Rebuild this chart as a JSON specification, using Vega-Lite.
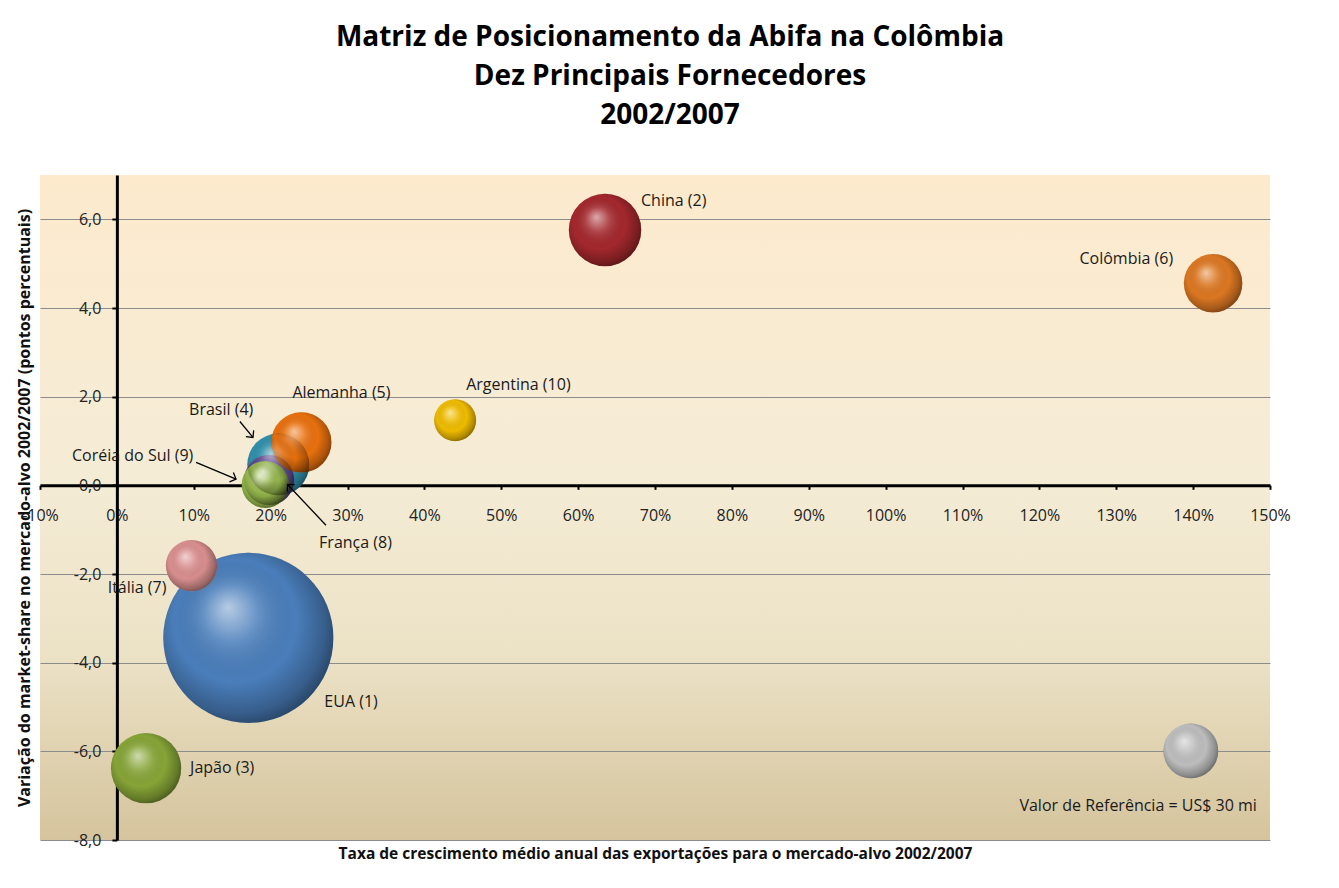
{
  "$schema": "https://vega.github.io/schema/vega-lite/v6.json",
  "autosize": "none",
  "width": 1230,
  "height": 665,
  "padding": {"left": 40, "top": 175, "right": 69, "bottom": 48},
  "background": "#ffffff",
  "view": {
    "stroke": null,
    "fill": {"gradient": "linear", "x1": 0, "y1": 0, "x2": 0, "y2": 1,
      "stops": [
        {"offset": 0, "color": "#FDEACD"},
        {"offset": 0.45, "color": "#F5ECD6"},
        {"offset": 0.72, "color": "#ECE2C6"},
        {"offset": 1, "color": "#D5C49D"}
      ]}
  },
  "title": {
    "text": ["Matriz de Posicionamento da Abifa na Colômbia", "Dez Principais Fornecedores", "2002/2007"],
    "font": "Open Sans", "fontSize": 28, "fontWeight": "bold", "color": "#000000",
    "lineHeight": 39, "anchor": "middle", "offset": 45, "dx": 15
  },
  "datasets": {
    "bolhas": [
      {"pais": "EUA", "rotulo": "EUA (1)", "cresc": 17.1, "var_share": -3.44, "valor": 287},
      {"pais": "China", "rotulo": "China (2)", "cresc": 63.5, "var_share": 5.76, "valor": 52},
      {"pais": "Japão", "rotulo": "Japão (3)", "cresc": 3.8, "var_share": -6.38, "valor": 49},
      {"pais": "Brasil", "rotulo": "Brasil (4)", "cresc": 21.0, "var_share": 0.47, "valor": 38},
      {"pais": "França", "rotulo": "França (8)", "cresc": 19.8, "var_share": 0.12, "valor": 25},
      {"pais": "Alemanha", "rotulo": "Alemanha (5)", "cresc": 24.0, "var_share": 0.97, "valor": 36},
      {"pais": "Coréia do Sul", "rotulo": "Coréia do Sul (9)", "cresc": 19.3, "var_share": 0.02, "valor": 22},
      {"pais": "Colômbia", "rotulo": "Colômbia (6)", "cresc": 142.6, "var_share": 4.56, "valor": 34},
      {"pais": "Itália", "rotulo": "Itália (7)", "cresc": 9.7, "var_share": -1.81, "valor": 26},
      {"pais": "Argentina", "rotulo": "Argentina (10)", "cresc": 44.0, "var_share": 1.47, "valor": 17.5},
      {"pais": "Referência", "rotulo": "Valor de Referência = US$ 30 mi", "cresc": 139.7, "var_share": -5.99, "valor": 30}
    ],
    "setas": [
      {"pais": "Brasil", "x0": 16.0, "y0": 1.44, "x1": 17.7, "y1": 1.08},
      {"pais": "Coréia do Sul", "x0": 10.3, "y0": 0.52, "x1": 15.5, "y1": 0.14},
      {"pais": "França", "x0": 27.2, "y0": -0.9, "x1": 22.2, "y1": 0.02}
    ]
  },
  "layer": [
    {
      "data": {"name": "bolhas"},
      "mark": {"type": "point", "shape": "circle", "filled": true, "opacity": 1, "strokeWidth": 0},
      "encoding": {
        "x": {
          "field": "cresc", "type": "quantitative",
          "scale": {"domain": [-10, 150], "nice": false, "zero": false},
          "axis": {
            "orient": "bottom", "offset": -354.67, "zindex": 0,
            "values": [-10, 0, 10, 20, 30, 40, 50, 60, 70, 80, 90, 100, 110, 120, 130, 140, 150],
            "labelExpr": "datum.value + '%'",
            "grid": false,
            "domainColor": "#000000", "domainWidth": 3,
            "tickColor": "#000000", "tickSize": 4, "tickWidth": 2,
            "labelFont": "Open Sans", "labelFontSize": 16, "labelColor": "#222222",
            "labelPadding": 18, "labelFlush": false, "labelOverlap": false, "labelBound": false,
            "title": "Taxa de crescimento médio anual das exportações para o mercado-alvo 2002/2007",
            "titleFont": "Open Sans", "titleFontSize": 15.5, "titleFontWeight": "bold", "titleColor": "#111111",
            "titleY": 361
          }
        },
        "y": {
          "field": "var_share", "type": "quantitative",
          "scale": {"domain": [-8, 7], "nice": false, "zero": false},
          "axis": {
            "orient": "left", "offset": -76.875, "zindex": 0,
            "values": [-8, -6, -4, -2, 0, 2, 4, 6],
            "labelExpr": "(datum.value < 0 ? '-' : '') + replace(format(abs(datum.value), '.1f'), '.', ',')",
            "grid": true, "gridColor": "#8C8C8C", "gridWidth": 1,
            "domainColor": "#000000", "domainWidth": 3,
            "tickColor": "#000000", "tickSize": 5, "tickWidth": 2,
            "labelFont": "Open Sans", "labelFontSize": 16, "labelColor": "#222222",
            "labelPadding": 11,
            "title": "Variação do market-share no mercado-alvo 2002/2007 (pontos percentuais)",
            "titleFont": "Open Sans", "titleFontSize": 16, "titleFontWeight": "bold", "titleColor": "#111111",
            "titlePadding": 41
          }
        },
        "size": {
          "field": "valor", "type": "quantitative",
          "scale": {"type": "linear", "domain": [0, 300], "range": [0, 30250]},
          "legend": null
        },
        "color": {
          "field": "pais", "type": "nominal",
          "scale": {
            "domain": ["EUA", "China", "Japão", "Brasil", "França", "Alemanha", "Coréia do Sul", "Colômbia", "Itália", "Argentina", "Referência"],
            "range": ["#4A7EBB", "#A3282D", "#86A437", "#2F8FAA", "#60498F", "#E8700E", "#97BA4C", "#DB7722", "#D98E8E", "#EEBB00", "#BDBDBD"]
          },
          "legend": null
        }
      }
    },
    {
      "data": {"name": "bolhas"},
      "mark": {
        "type": "point", "shape": "circle", "filled": true, "opacity": 1, "strokeWidth": 0,
        "fill": {"gradient": "radial", "x1": 0.38, "y1": 0.32, "r1": 0, "x2": 0.45, "y2": 0.45, "r2": 0.6,
          "stops": [
            {"offset": 0, "color": "rgba(255,255,255,0.6)"},
            {"offset": 0.28, "color": "rgba(255,255,255,0.14)"},
            {"offset": 0.6, "color": "rgba(0,0,0,0)"},
            {"offset": 0.85, "color": "rgba(0,0,0,0.25)"},
            {"offset": 1, "color": "rgba(0,0,0,0.5)"}
          ]}
      },
      "encoding": {
        "x": {"field": "cresc", "type": "quantitative"},
        "y": {"field": "var_share", "type": "quantitative"},
        "size": {"field": "valor", "type": "quantitative"}
      }
    },
    {
      "data": {"name": "setas"},
      "mark": {"type": "rule", "color": "#000000", "strokeWidth": 1.3},
      "encoding": {
        "x": {"field": "x0", "type": "quantitative"},
        "y": {"field": "y0", "type": "quantitative"},
        "x2": {"field": "x1"},
        "y2": {"field": "y1"}
      }
    },
    {
      "data": {"name": "setas"},
      "transform": [{"filter": "datum.pais === 'Brasil'"}],
      "mark": {"type": "point", "shape": "M-1,1L0,0L1,1", "filled": false, "stroke": "#000000", "strokeWidth": 1.3, "size": 100, "opacity": 1, "angle": 141},
      "encoding": {"x": {"field": "x1", "type": "quantitative"}, "y": {"field": "y1", "type": "quantitative"}}
    },
    {
      "data": {"name": "setas"},
      "transform": [{"filter": "datum.pais === 'Coréia do Sul'"}],
      "mark": {"type": "point", "shape": "M-1,1L0,0L1,1", "filled": false, "stroke": "#000000", "strokeWidth": 1.3, "size": 100, "opacity": 1, "angle": 113},
      "encoding": {"x": {"field": "x1", "type": "quantitative"}, "y": {"field": "y1", "type": "quantitative"}}
    },
    {
      "data": {"name": "setas"},
      "transform": [{"filter": "datum.pais === 'França'"}],
      "mark": {"type": "point", "shape": "M-1,1L0,0L1,1", "filled": false, "stroke": "#000000", "strokeWidth": 1.3, "size": 100, "opacity": 1, "angle": 317},
      "encoding": {"x": {"field": "x1", "type": "quantitative"}, "y": {"field": "y1", "type": "quantitative"}}
    },
    {
      "data": {"name": "bolhas"},
      "transform": [{"filter": "datum.pais === 'China'"}],
      "mark": {"type": "text", "font": "Open Sans", "fontSize": 16, "color": "#1A1A1A", "align": "left", "baseline": "middle", "dx": 36, "dy": -29},
      "encoding": {"x": {"field": "cresc", "type": "quantitative"}, "y": {"field": "var_share", "type": "quantitative"}, "text": {"field": "rotulo"}}
    },
    {
      "data": {"name": "bolhas"},
      "transform": [{"filter": "datum.pais === 'Colômbia'"}],
      "mark": {"type": "text", "font": "Open Sans", "fontSize": 16, "color": "#1A1A1A", "align": "right", "baseline": "middle", "dx": -40, "dy": -24},
      "encoding": {"x": {"field": "cresc", "type": "quantitative"}, "y": {"field": "var_share", "type": "quantitative"}, "text": {"field": "rotulo"}}
    },
    {
      "data": {"name": "bolhas"},
      "transform": [{"filter": "datum.pais === 'Argentina'"}],
      "mark": {"type": "text", "font": "Open Sans", "fontSize": 16, "color": "#1A1A1A", "align": "left", "baseline": "middle", "dx": 11, "dy": -35},
      "encoding": {"x": {"field": "cresc", "type": "quantitative"}, "y": {"field": "var_share", "type": "quantitative"}, "text": {"field": "rotulo"}}
    },
    {
      "data": {"name": "bolhas"},
      "transform": [{"filter": "datum.pais === 'Alemanha'"}],
      "mark": {"type": "text", "font": "Open Sans", "fontSize": 16, "color": "#1A1A1A", "align": "left", "baseline": "middle", "dx": -9, "dy": -49},
      "encoding": {"x": {"field": "cresc", "type": "quantitative"}, "y": {"field": "var_share", "type": "quantitative"}, "text": {"field": "rotulo"}}
    },
    {
      "data": {"name": "bolhas"},
      "transform": [{"filter": "datum.pais === 'Brasil'"}],
      "mark": {"type": "text", "font": "Open Sans", "fontSize": 16, "color": "#1A1A1A", "align": "right", "baseline": "middle", "dx": -25, "dy": -54},
      "encoding": {"x": {"field": "cresc", "type": "quantitative"}, "y": {"field": "var_share", "type": "quantitative"}, "text": {"field": "rotulo"}}
    },
    {
      "data": {"name": "bolhas"},
      "transform": [{"filter": "datum.pais === 'Coréia do Sul'"}],
      "mark": {"type": "text", "font": "Open Sans", "fontSize": 16, "color": "#1A1A1A", "align": "right", "baseline": "middle", "dx": -72, "dy": -28},
      "encoding": {"x": {"field": "cresc", "type": "quantitative"}, "y": {"field": "var_share", "type": "quantitative"}, "text": {"field": "rotulo"}}
    },
    {
      "data": {"name": "bolhas"},
      "transform": [{"filter": "datum.pais === 'França'"}],
      "mark": {"type": "text", "font": "Open Sans", "fontSize": 16, "color": "#1A1A1A", "align": "left", "baseline": "middle", "dx": 50, "dy": 63},
      "encoding": {"x": {"field": "cresc", "type": "quantitative"}, "y": {"field": "var_share", "type": "quantitative"}, "text": {"field": "rotulo"}}
    },
    {
      "data": {"name": "bolhas"},
      "transform": [{"filter": "datum.pais === 'Itália'"}],
      "mark": {"type": "text", "font": "Open Sans", "fontSize": 16, "color": "#1A1A1A", "align": "right", "baseline": "middle", "dx": -25, "dy": 22},
      "encoding": {"x": {"field": "cresc", "type": "quantitative"}, "y": {"field": "var_share", "type": "quantitative"}, "text": {"field": "rotulo"}}
    },
    {
      "data": {"name": "bolhas"},
      "transform": [{"filter": "datum.pais === 'EUA'"}],
      "mark": {"type": "text", "font": "Open Sans", "fontSize": 16, "color": "#1A1A1A", "align": "left", "baseline": "middle", "dx": 76, "dy": 64},
      "encoding": {"x": {"field": "cresc", "type": "quantitative"}, "y": {"field": "var_share", "type": "quantitative"}, "text": {"field": "rotulo"}}
    },
    {
      "data": {"name": "bolhas"},
      "transform": [{"filter": "datum.pais === 'Japão'"}],
      "mark": {"type": "text", "font": "Open Sans", "fontSize": 16, "color": "#1A1A1A", "align": "left", "baseline": "middle", "dx": 44, "dy": 0},
      "encoding": {"x": {"field": "cresc", "type": "quantitative"}, "y": {"field": "var_share", "type": "quantitative"}, "text": {"field": "rotulo"}}
    },
    {
      "data": {"name": "bolhas"},
      "transform": [{"filter": "datum.pais === 'Referência'"}],
      "mark": {"type": "text", "font": "Open Sans", "fontSize": 16, "color": "#1A1A1A", "align": "right", "baseline": "middle", "dx": 66, "dy": 55},
      "encoding": {"x": {"field": "cresc", "type": "quantitative"}, "y": {"field": "var_share", "type": "quantitative"}, "text": {"field": "rotulo"}}
    }
  ]
}
